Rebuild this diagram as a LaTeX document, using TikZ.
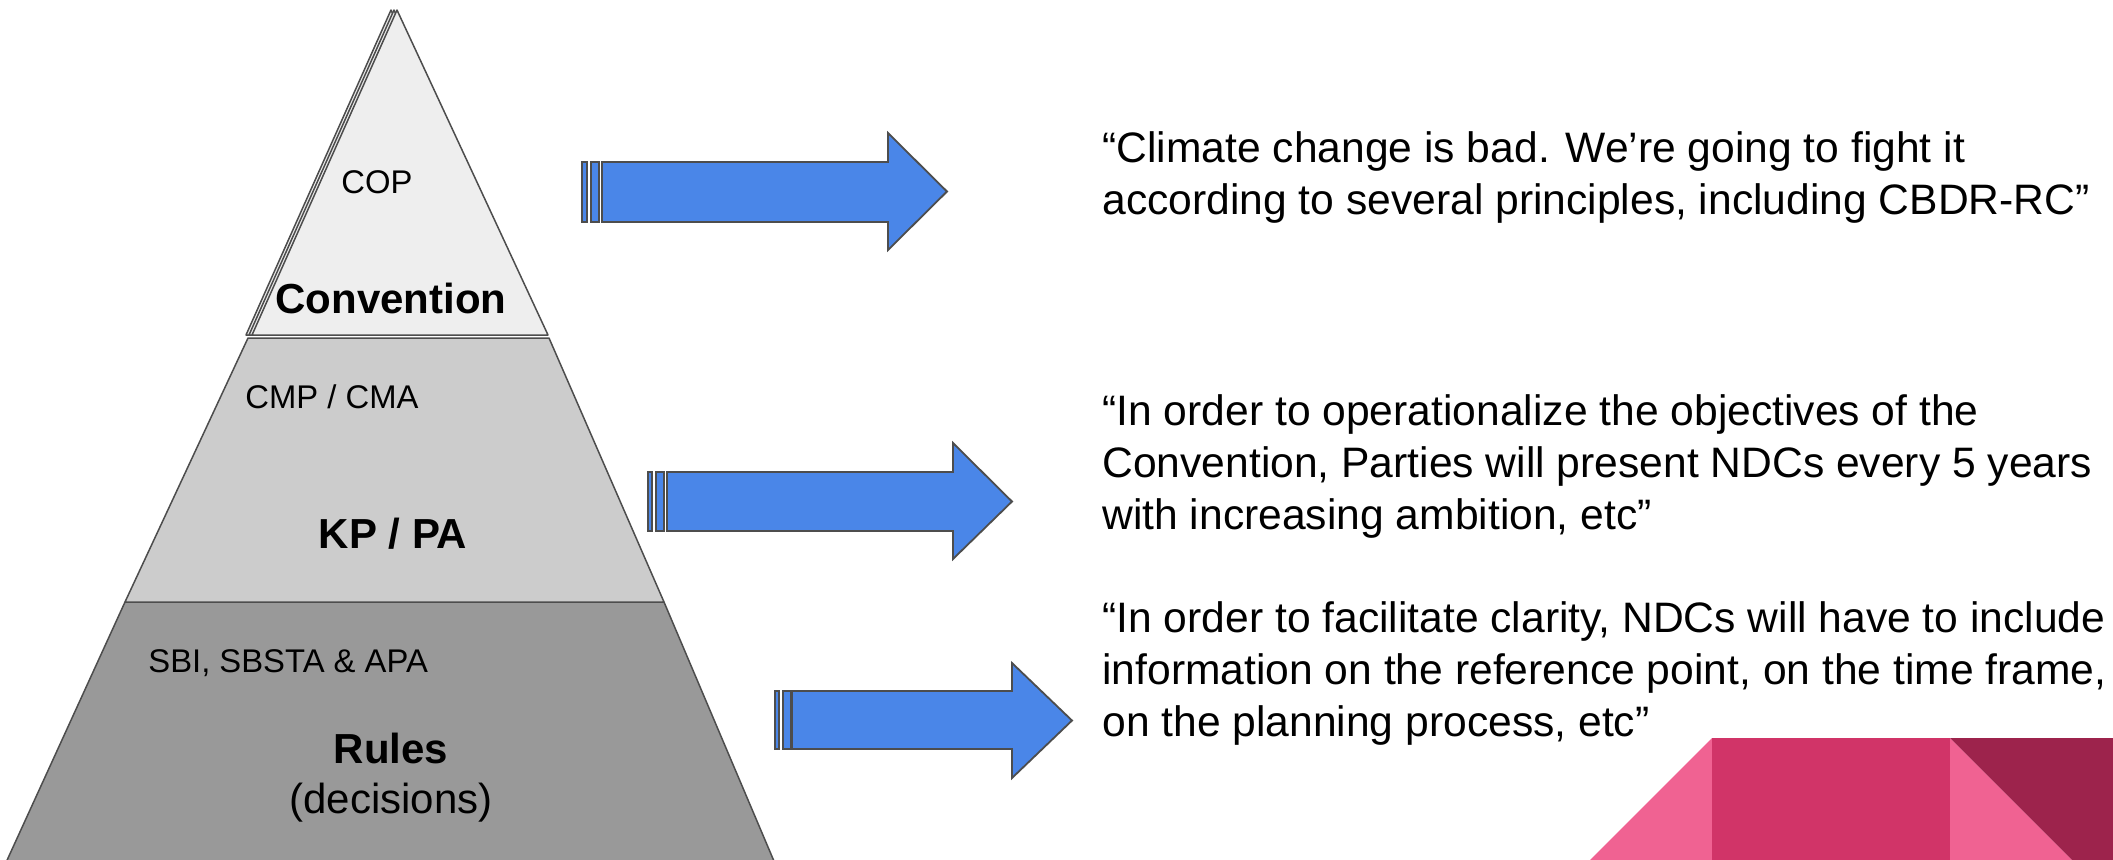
\documentclass[tikz,border=0pt]{standalone}
\usepackage{fontspec}
\setmainfont{Liberation Sans}
\definecolor{arrowblue}{HTML}{4A86E8}
\definecolor{edgegray}{HTML}{4D4D4D}
\definecolor{toplayer}{HTML}{EEEEEE}
\definecolor{midlayer}{HTML}{CCCCCC}
\definecolor{lowlayer}{HTML}{999999}
\definecolor{lightpink}{HTML}{F06292}
\definecolor{darkpink}{HTML}{D13468}
\definecolor{maroon}{HTML}{9D234C}
\begin{document}
\begin{tikzpicture}[x=0.5pt, y=-0.5pt,
layer/.style={draw=edgegray, line width=0.75pt, line join=round},
boldlabel/.style={inner sep=0pt, anchor=base, font=\fontsize{21}{26}\selectfont\bfseries},
biglabel/.style={inner sep=0pt, anchor=base, font=\fontsize{21}{26}\selectfont},
smalllabel/.style={inner sep=0pt, font=\fontsize{16.4}{20}\selectfont},
quote/.style={inner sep=0pt, anchor=base west, align=left, font=\fontsize{21.3}{26}\selectfont},
blockarrow/.style={draw=edgegray, fill=arrowblue, line width=0.9pt},
]
\useasboundingbox (0,0) rectangle (2113,859);
\clip (0,0) rectangle (2113,859);
%Pyramid
\fill[layer, fill=lowlayer] (125,602) -- (664,602) -- (782,880) -- (-2,880) -- cycle;
\fill[layer, fill=midlayer] (248,338) -- (549,338) -- (664,602) -- (125,602) -- cycle;
\fill[layer, fill=toplayer] (391,10) -- (542,335) -- (246,335) -- cycle;
\fill[layer, fill=toplayer] (394,10) -- (545,335) -- (249,335) -- cycle;
\fill[layer, fill=toplayer] (397,10) -- (548,335) -- (252,335) -- cycle;
%Labels
\node[smalllabel, anchor=base] (cop) at (377,193) {COP};
\node[boldlabel] (convention) at (391,313) {Convention};
\node[smalllabel, anchor=base west] (cmp) at (245,408) {CMP / CMA};
\node[boldlabel] (kppa) at (393,548) {KP / PA};
\node[smalllabel, anchor=base west] (sbi) at (148,672) {SBI, SBSTA \& APA};
\node[boldlabel] (rules) at (391,763) {Rules};
\node[biglabel] (decisions) at (391,813) {(decisions)};
%Arrows
\draw[blockarrow] (582,162) rectangle (587,222);
\draw[blockarrow] (591,162) rectangle (599,222);
\draw[blockarrow] (602,162) -- (888,162) -- (888,133) -- (947,191.5) -- (888,250) -- (888,222) -- (602,222) -- cycle;
\draw[blockarrow] (648,472) rectangle (652,531);
\draw[blockarrow] (656,472) rectangle (664,531);
\draw[blockarrow] (667,472) -- (953,472) -- (953,443) -- (1012,501.5) -- (953,559) -- (953,531) -- (667,531) -- cycle;
\draw[blockarrow] (775,691) rectangle (779,749);
\draw[blockarrow] (783,691) rectangle (791,749);
\draw[blockarrow] (792,691) -- (1012,691) -- (1012,663) -- (1072,720.5) -- (1012,778) -- (1012,749) -- (792,749) -- cycle;
%Quotes (base = last line)
\node[quote] (convquote) at (1102,214) {“Climate change is bad. We’re going to fight it\\according to several principles, including CBDR-RC”};
\node[quote] (kpquote) at (1102,529) {“In order to operationalize the objectives of the\\Convention, Parties will present NDCs every 5 years\\with increasing ambition, etc”};
\node[quote] (rulesquote) at (1102,736) {“In order to facilitate clarity, NDCs will have to include\\information on the reference point, on the time frame,\\on the planning process, etc”};
%Corner
\fill[lightpink] (1712,738) -- (1712,880) -- (1570,880) -- cycle;
\fill[darkpink] (1712,738) rectangle (1950,880);
\fill[lightpink] (1950,738) -- (1950,880) -- (2092,880) -- cycle;
\fill[maroon] (1950,738) -- (2120,738) -- (2120,880) -- (2092,880) -- cycle;
\end{tikzpicture}
\end{document}
